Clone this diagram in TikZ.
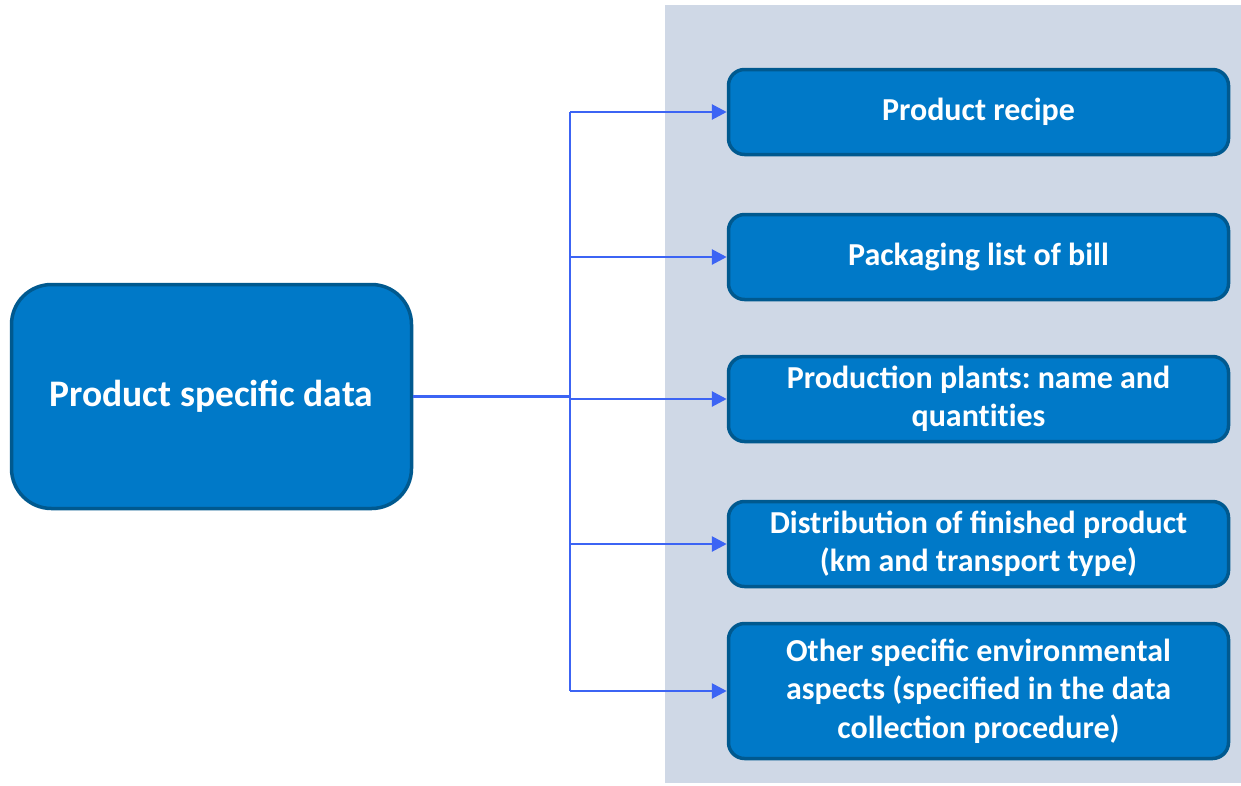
\documentclass[tikz,border=0pt]{standalone}
\usepackage{fontspec}
\setmainfont{Carlito}
\usetikzlibrary{arrows.meta,positioning}
\definecolor{boxfill}{HTML}{0079C8}
\definecolor{boxedge}{HTML}{00598F}
\definecolor{panelgray}{HTML}{CFD8E6}
\definecolor{linkblue}{HTML}{3C64F4}
\frenchspacing

\begin{document}
\begin{tikzpicture}[x=1pt,y=-1pt,
    mainbox/.style={draw=boxedge,fill=boxfill,line width=3.5pt,rounded corners=40pt,
      minimum width=400pt,minimum height=224pt,text=white,
      font=\fontsize{37.5}{44}\selectfont\bfseries,align=center},
    itembox/.style={draw=boxedge,fill=boxfill,line width=3.5pt,rounded corners=16pt,
      minimum width=500pt,text=white,
      font=\fontsize{32}{38.5}\selectfont\bfseries,align=center},
    link/.style={linkblue,line width=2.8pt},
    linkarrow/.style={link,-{Triangle[length=15pt,width=15pt]}}]
  \useasboundingbox (0,0) rectangle (1241,785);
  \fill[panelgray] (665,5) rectangle (1241,783);

  \node[mainbox] (psd) at (211.5,396.5) {Product specific data};

  \foreach \n/\y/\h/\t in {recipe/112/85/{Product recipe},
      packaging/257/85/{Packaging list of bill},
      plants/399/85/{Production plants: name and\\quant\kern0pt it\kern0pt ies},
      distribution/544/85/{Distribution of finished product\\(km and transport type)},
      other/691/135/{Other specific environmental\\aspects (specified in the data\\collection procedure)}} {
    \node[itembox,minimum height=\h pt] (\n) at (978.5,\y) {\t};
  }

  % bus line between the main box and the items
  \coordinate (bus) at (570,0);
  \draw[link] (psd.east) -- (psd.east -| bus);
  \draw[link] (bus |- recipe.west) -- (bus |- other.west);
  \foreach \n in {recipe,packaging,plants,distribution,other}
    \draw[linkarrow] (bus |- \n.west) -- (\n.west);
\end{tikzpicture}
\end{document}
